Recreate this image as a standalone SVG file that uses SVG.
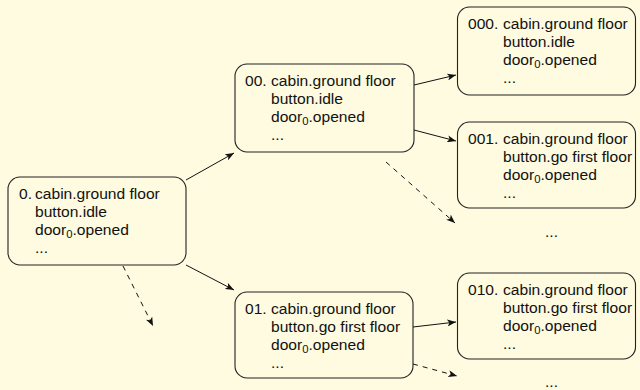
<svg xmlns="http://www.w3.org/2000/svg" width="640" height="390" viewBox="0 0 640 390">
<style>
.bg{fill:#fefbe0}
.box{fill:#fefbe0;stroke:#222;stroke-width:1.1}
text{font-family:"Liberation Sans",Arial,sans-serif;font-size:13.8px;fill:#111}
.sub{font-size:10px}
.edge{stroke:#111;stroke-width:1;fill:none}
.dash{stroke-dasharray:5,5}
</style>
<defs>
<marker id="arr" viewBox="0 0 10 8" refX="10" refY="4" markerWidth="9" markerHeight="7" markerUnits="userSpaceOnUse" orient="auto">
<path d="M0,0 L10,4 L0,8 L2.5,4 z" fill="#111"/>
</marker>
</defs>
<rect class="bg" x="0" y="0" width="640" height="390"/>
<g id="connectors">
<path class="edge" d="M186,180 L234,153" marker-end="url(#arr)"/>
<path class="edge" d="M186,265 L234,290" marker-end="url(#arr)"/>
<path class="edge dash" d="M123,266 L153,326" marker-end="url(#arr)"/>
<path class="edge" d="M414,85 L456,75" marker-end="url(#arr)"/>
<path class="edge" d="M414,130 L456,141" marker-end="url(#arr)"/>
<path class="edge dash" d="M386,162 L455,223" marker-end="url(#arr)"/>
<path class="edge" d="M413,327 L456,322" marker-end="url(#arr)"/>
<path class="edge dash" d="M413,364 L457,376" marker-end="url(#arr)"/>
</g>
<g id="n0">
<rect class="box" x="8" y="177" width="178" height="88" rx="12"/>
<text transform="translate(19,199) scale(1.13,1)">0.</text>
<text transform="translate(35,199) scale(1.13,1)">cabin.ground floor</text>
<text transform="translate(35,217) scale(1.13,1)">button.idle</text>
<text transform="translate(35,235) scale(1.13,1)">door<tspan class="sub" dy="3">0</tspan><tspan dy="-3">.opened</tspan></text>
<text transform="translate(35,253) scale(1.13,1)">...</text>
</g>
<g id="n00">
<rect class="box" x="235" y="64" width="179" height="88" rx="12"/>
<text transform="translate(245,86) scale(1.13,1)">00.</text>
<text transform="translate(271,86) scale(1.13,1)">cabin.ground floor</text>
<text transform="translate(271,104) scale(1.13,1)">button.idle</text>
<text transform="translate(271,122) scale(1.13,1)">door<tspan class="sub" dy="3">0</tspan><tspan dy="-3">.opened</tspan></text>
<text transform="translate(271,140) scale(1.13,1)">...</text>
</g>
<g id="n01">
<rect class="box" x="235" y="292" width="178" height="86" rx="12"/>
<text transform="translate(245,314) scale(1.13,1)">01.</text>
<text transform="translate(271,314) scale(1.13,1)">cabin.ground floor</text>
<text transform="translate(271,332) scale(1.13,1)">button.go first floor</text>
<text transform="translate(271,350) scale(1.13,1)">door<tspan class="sub" dy="3">0</tspan><tspan dy="-3">.opened</tspan></text>
<text transform="translate(271,368) scale(1.13,1)">...</text>
</g>
<g id="n000">
<rect class="box" x="457.5" y="7" width="178" height="88" rx="12"/>
<text transform="translate(468,29) scale(1.13,1)">000.</text>
<text transform="translate(503,29) scale(1.13,1)">cabin.ground floor</text>
<text transform="translate(503,47) scale(1.13,1)">button.idle</text>
<text transform="translate(503,65) scale(1.13,1)">door<tspan class="sub" dy="3">0</tspan><tspan dy="-3">.opened</tspan></text>
<text transform="translate(503,83) scale(1.13,1)">...</text>
</g>
<g id="n001">
<rect class="box" x="457.5" y="122" width="178" height="86" rx="12"/>
<text transform="translate(468,144) scale(1.13,1)">001.</text>
<text transform="translate(503,144) scale(1.13,1)">cabin.ground floor</text>
<text transform="translate(503,162) scale(1.13,1)">button.go first floor</text>
<text transform="translate(503,180) scale(1.13,1)">door<tspan class="sub" dy="3">0</tspan><tspan dy="-3">.opened</tspan></text>
<text transform="translate(503,198) scale(1.13,1)">...</text>
</g>
<g id="more1">
<text transform="translate(545,237) scale(1.13,1)">...</text>
</g>
<g id="n010">
<rect class="box" x="457.5" y="273" width="178" height="86" rx="12"/>
<text transform="translate(468,295) scale(1.13,1)">010.</text>
<text transform="translate(503,295) scale(1.13,1)">cabin.ground floor</text>
<text transform="translate(503,313) scale(1.13,1)">button.go first floor</text>
<text transform="translate(503,331) scale(1.13,1)">door<tspan class="sub" dy="3">0</tspan><tspan dy="-3">.opened</tspan></text>
<text transform="translate(503,349) scale(1.13,1)">...</text>
</g>
<g id="more2">
<text transform="translate(545,387) scale(1.13,1)">...</text>
</g>
</svg>
